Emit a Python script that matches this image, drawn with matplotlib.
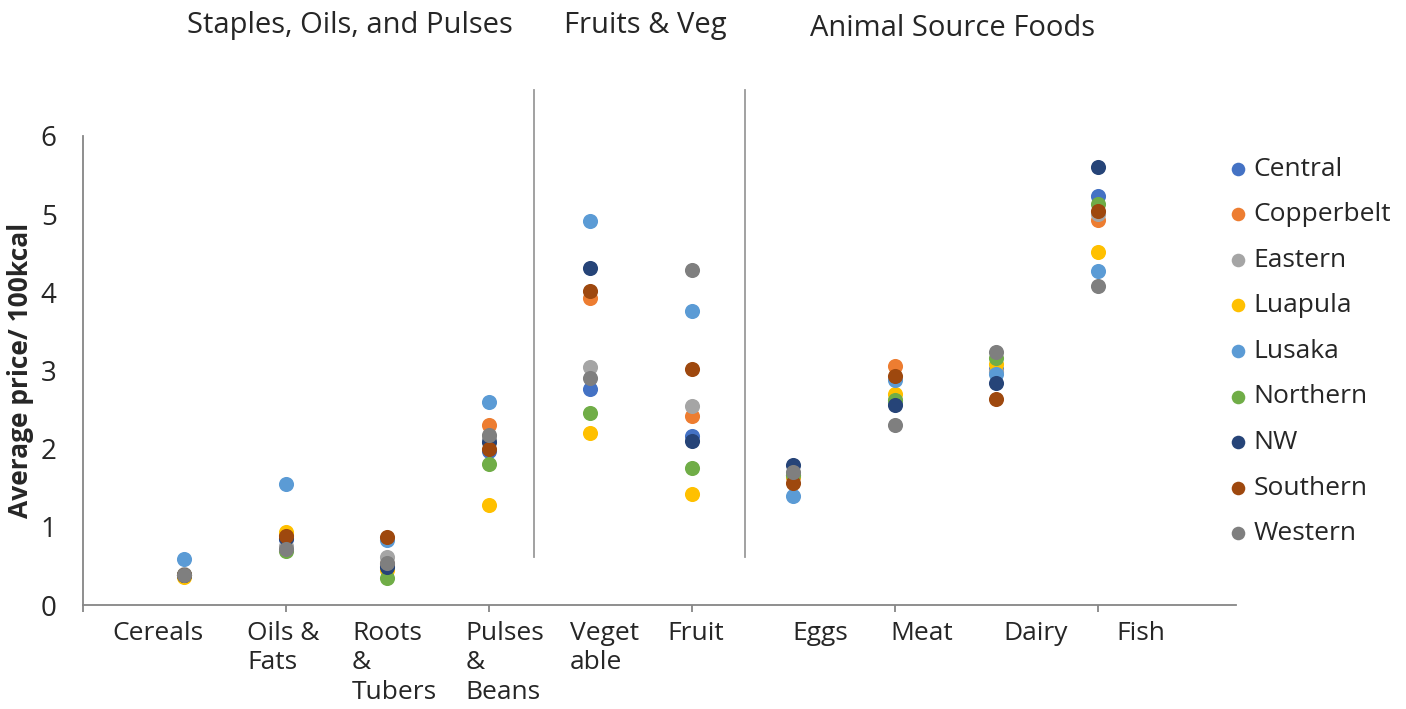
"""Average price per 100kcal by food group and province"""

import matplotlib.pyplot as plt
import numpy as np

plt.rcParams['font.family'] = ['Open Sans', 'DejaVu Sans']

categories = ["Cereals", "Oils &\nFats", "Roots\n&\nTubers", "Pulses\n&\nBeans",
              "Veget\nable", "Fruit", "Eggs", "Meat", "Dairy", "Fish"]
cat_x = np.arange(1, 11)

regions = ["Central", "Copperbelt", "Eastern", "Luapula", "Lusaka",
           "Northern", "NW", "Southern", "Western"]
colors = ["#4472C4", "#ED7D31", "#A5A5A5", "#FFC000", "#5B9BD5",
          "#70AD47", "#264478", "#9E480E", "#7F7F7F"]

central = [0.39, 0.85, 0.50, 1.97, 2.76, 2.16, 1.66, 2.60, 3.02, 5.23]
copperbelt = [0.39, 0.90, 0.52, 2.30, 3.93, 2.42, 1.64, 3.06, 2.98, 4.93]
eastern = [0.40, 0.75, 0.61, 2.12, 3.04, 2.54, 1.66, 2.62, 3.00, 5.00]
luapula = [0.36, 0.93, 0.45, 1.28, 2.20, 1.42, 1.65, 2.70, 3.08, 4.51]
lusaka = [0.59, 1.55, 0.83, 2.60, 4.91, 3.76, 1.39, 2.88, 2.96, 4.27]
northern = [0.39, 0.69, 0.34, 1.80, 2.46, 1.75, 1.66, 2.62, 3.16, 5.13]
nw = [0.39, 0.86, 0.48, 2.08, 4.31, 2.10, 1.79, 2.56, 2.84, 5.60]
southern = [0.39, 0.88, 0.87, 2.00, 4.02, 3.02, 1.56, 2.93, 2.64, 5.04]
western = [0.39, 0.72, 0.54, 2.17, 2.91, 4.29, 1.70, 2.30, 3.24, 4.08]
series = [central, copperbelt, eastern, luapula, lusaka, northern, nw, southern, western]

# group headers and dividers
groups = ["Staples, Oils, and Pulses", "Fruits & Veg", "Animal Source Foods"]
group_x = [350, 645, 953]
group_y = [26, 26, 29]
dividers = [4.44, 6.52]

# left edge of the category text boxes (data units)
label_x = [0.29, 1.62, 2.65, 3.77, 4.80, 5.76, 6.99, 7.95, 9.07, 10.18]

W, H = 1406, 709
fig = plt.figure(figsize=(W / 100, H / 100), dpi=100)
ax = fig.add_axes([83 / W, 1 - 605 / H, (1236 - 83) / W, (605 - 136) / H])

text_color = "#262626"
axis_color = "#868686"

for vals, name, col in zip(series, regions, colors):
    ax.scatter(cat_x, vals, s=118, color=col, label=name, linewidths=0, zorder=3)

ax.set_xlim(0, 11.36)
ax.set_ylim(0, 6)
ax.set_xticks([0, 2, 4, 6, 8, 10])
ax.set_xticklabels([])
ax.tick_params(axis='x', length=5, width=1.3, color=axis_color)
ax.set_yticks(range(7))
ax.tick_params(axis='y', length=0, pad=19, labelsize=20, labelcolor=text_color)

for side in ["top", "right"]:
    ax.spines[side].set_visible(False)
for side in ["left", "bottom"]:
    ax.spines[side].set_color(axis_color)
    ax.spines[side].set_linewidth(1.3)

ax.set_ylabel("Average price/ 100kcal", fontsize=19, fontweight='bold',
              color=text_color)
ax.yaxis.set_label_coords((34 - 83) / (1236 - 83), 0.5)

for lx, lab in zip(label_x, categories):
    ax.text(lx, -0.2, lab, ha='left', va='top', fontsize=19, color=text_color,
            linespacing=1.24, clip_on=False)

for dx in dividers:
    ax.plot([dx, dx], [0.61, 6.59], color="#9a9a9a", lw=1.3, clip_on=False)

for g, gx, gy in zip(groups, group_x, group_y):
    fig.text(gx / W, 1 - gy / H, g, ha='center', va='center', fontsize=21,
             color=text_color)

leg = ax.legend(loc='upper left', bbox_to_anchor=(1214 / W, 1 - 146 / H),
                bbox_transform=fig.transFigure, frameon=False, fontsize=19,
                handletextpad=0.1, handlelength=1.0, labelspacing=0.78,
                markerscale=0.9, borderaxespad=0)
for t in leg.get_texts():
    t.set_color(text_color)

fig.savefig("out.png", dpi=100)
